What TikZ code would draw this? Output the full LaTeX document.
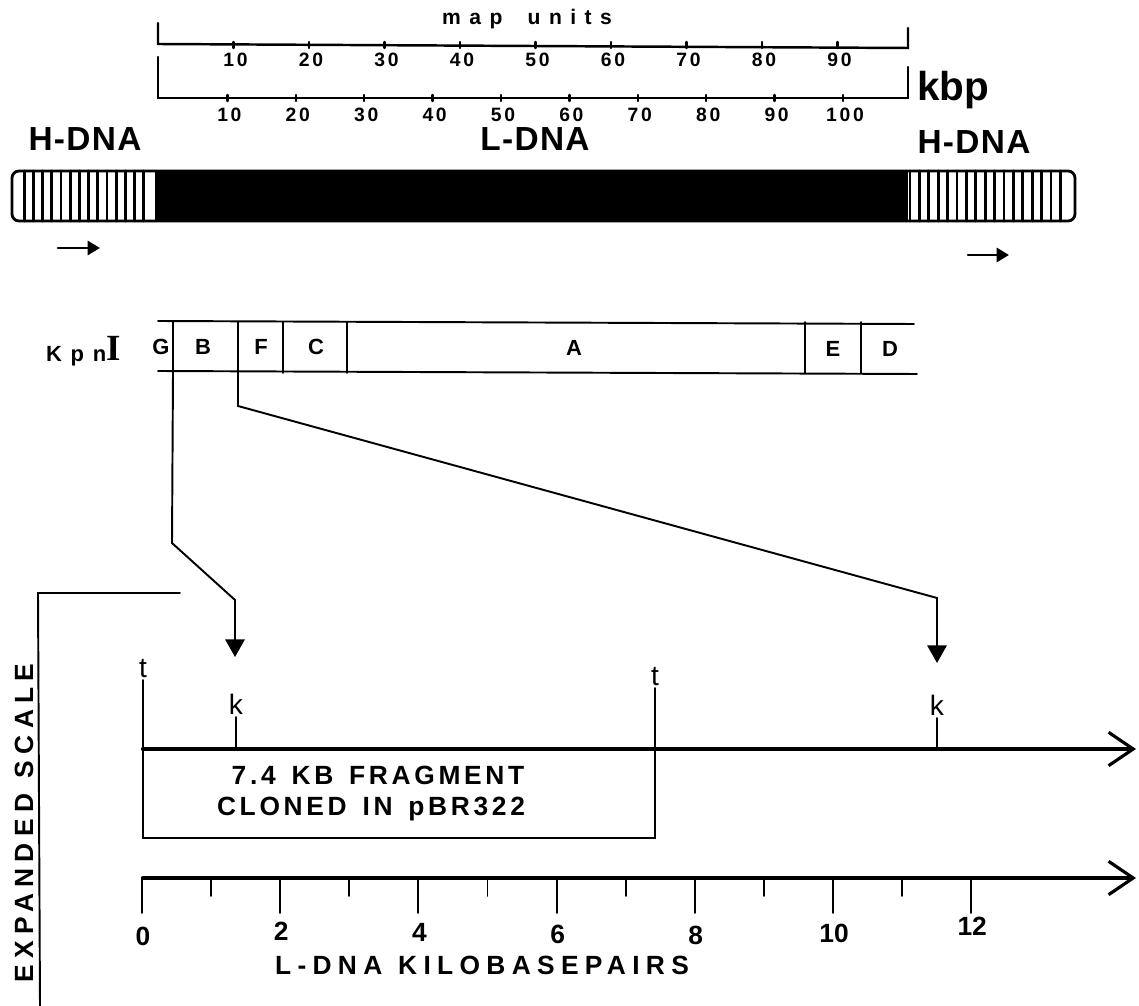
\documentclass[tikz,border=0pt]{standalone}
\usepackage{fontspec}
\setmainfont{Liberation Sans}
\newfontfamily\roomy[LetterSpace=4]{Liberation Sans}
\newfontfamily\wide[LetterSpace=14]{Liberation Sans}
\newfontfamily\wider[LetterSpace=24]{Liberation Sans}
\newfontfamily\widest[LetterSpace=40]{Liberation Sans}
\newfontfamily\serifI{Liberation Serif}
\newcommand{\wsp}{\hspace{0.6em}}
\usepackage{tikz}
\usetikzlibrary{arrows.meta, positioning}

\begin{document}
\begin{tikzpicture}[
    x=0.02cm,
    y=-0.02cm,
    line cap=round,
    thinline/.style={line width=1.1pt},
    scaleline/.style={line width=1.4pt},
    stripe/.style={line width=1.6pt},
    axisline/.style={
        line width=2.4pt,
        -{Straight Barb[length=14pt, width=19pt, line width=1.8pt]}
    },
    pointer/.style={
        line width=1.1pt,
        -{Triangle[length=10pt, width=11pt]}
    },
    sense/.style={
        line width=1.5pt,
        -{Triangle[length=7pt, width=8pt]}
    },
    dnalabel/.style={font=\roomy\bfseries\fontsize{19}{21}\selectfont},
    ticklabel/.style={font=\wide\bfseries\fontsize{11}{12}\selectfont, inner sep=1pt},
    seglabel/.style={font=\bfseries\fontsize{12.5}{14}\selectfont},
    sitelabel/.style={font=\fontsize{16}{17}\selectfont, inner sep=1pt},
    boxtext/.style={font=\wide\bfseries\fontsize{15}{17}\selectfont},
    axislabel/.style={font=\bfseries\fontsize{15}{16}\selectfont, inner sep=1pt}
]
\useasboundingbox (0,0) rectangle (1139,1006);

\node[font=\widest\bfseries\fontsize{12}{13}\selectfont, anchor=base] (mapunits) at (527,25) {map\hspace{1.2em}units};
\draw[scaleline] (158,23) -- (158,44) -- (908,48) -- (908,28);
\foreach \u in {10,20,...,90} {
    \draw[scaleline] (158+7.55*\u,42) -- (158+7.55*\u,48);
    \node[ticklabel] (mu\u) at (160+7.55*\u,60) {\u};
}
\draw[scaleline] (158,57) -- (158,98) -- (908,98) -- (908,67);
\foreach \k in {10,20,...,100} {
    \draw[scaleline] (159+6.84*\k,95) -- (159+6.84*\k,101);
    \node[ticklabel] (kb\k) at (161+6.84*\k,115) {\k};
}
\node[font=\bfseries\fontsize{23}{25}\selectfont, anchor=base west, inner sep=0pt] (kbp) at (917,101) {kbp};

\node[dnalabel] (hleft) at (85,139) {H-DNA};
\node[dnalabel] (ldna) at (535,139) {L-DNA};
\node[dnalabel] (hright) at (974,142) {H-DNA};

\fill (155,171) rectangle (908,221);
\foreach \i in {1,...,14}
    \draw[stripe] (15+9.2*\i,171) -- (15+9.2*\i,221);
\foreach \i in {0,...,16}
    \draw[stripe] (910+9.4*\i,171) -- (910+9.4*\i,221);
\draw[line width=1.6pt, rounded corners=4pt] (12,171) rectangle (1075,221);

\coordinate (senseL0) at (58,248);
\coordinate (senseL1) at (100,248);
\coordinate (senseR0) at (968,255);
\coordinate (senseR1) at (1009,255);
\draw[sense] (senseL0) -- (senseL1);
\draw[sense] (senseR0) -- (senseR1);

\node[anchor=base east, inner sep=0pt] (kpn) at (121,362)
    {{\widest\bfseries\fontsize{12.5}{13}\selectfont Kpn}\raisebox{1pt}{\serifI\bfseries\fontsize{21}{21}\selectfont I}};
\draw[thinline] (158,321) -- (914,324);
\draw[thinline] (158,371) -- (917,374);
\foreach \x in {173,238,283,347,805,861}
    \draw[thinline] (\x,322) -- (\x,373);
\node[seglabel] (segG) at (161,347) {G};
\node[seglabel] (segB) at (203,347) {B};
\node[seglabel] (segF) at (261,347) {F};
\node[seglabel] (segC) at (316,347) {C};
\node[seglabel] (segA) at (574,348) {A};
\node[seglabel] (segE) at (833,349) {E};
\node[seglabel] (segD) at (890,349) {D};
\coordinate (gb) at (173,372);
\coordinate (bf) at (238,372);

\node[rotate=90, font=\wider\bfseries\fontsize{15}{17}\selectfont] (expanded) at (24,823) {EXPANDED\wsp SCALE};
\draw[thinline] (180,593) -- (38,593) -- (40,1006);

\coordinate (tL) at (143,680);
\coordinate (tR) at (655,688);
\coordinate (kL) at (236,717);
\coordinate (kR) at (937,718);
\node[sitelabel, anchor=south] (tLlabel) at (tL) {t};
\node[sitelabel, anchor=south] (tRlabel) at (tR) {t};
\node[sitelabel, anchor=south] (kLlabel) at (kL) {k};
\node[sitelabel, anchor=south] (kRlabel) at (kR) {k};
\coordinate (kLtip) at (235,657);
\coordinate (kRtip) at (937,663);

\draw[pointer] (gb) -- (172,543) -- (235,600) -- (kLtip);
\draw[pointer] (bf) -- (238,406) -- (937,598) -- (kRtip);

\draw[axisline] (143,749) -- (1136,749);
\draw[thinline] (kL) -- (236,749);
\draw[thinline] (kR) -- (937,749);
\draw[thinline] (tL) -- (143,838) -- (655,838) -- (tR);
\node[boxtext] (frag) at (378,775) {7.4\wsp KB\wsp FRAGMENT};
\node[boxtext] (clone) at (371,809) {CLONED\wsp IN\wsp pBR322};

\draw[axisline] (143,878) -- (1136,878);
\foreach \k in {0,2,...,12}
    \draw[thinline] (142+69.1*\k,878) -- (142+69.1*\k,913);
\foreach \k in {1,3,...,11}
    \draw[thinline] (142+69.1*\k,878) -- (142+69.1*\k,896);
\foreach \k/\y in {0/936,2/931,4/932,6/934,8/935,10/933,12/926}
    \node[axislabel] (ax\k) at (143+69.1*\k,\y) {\k};
\node[font=\wider\bfseries\fontsize{15}{17}\selectfont] (kbpairs) at (482,965) {L-DNA\wsp KILOBASEPAIRS};

\end{tikzpicture}
\end{document}
